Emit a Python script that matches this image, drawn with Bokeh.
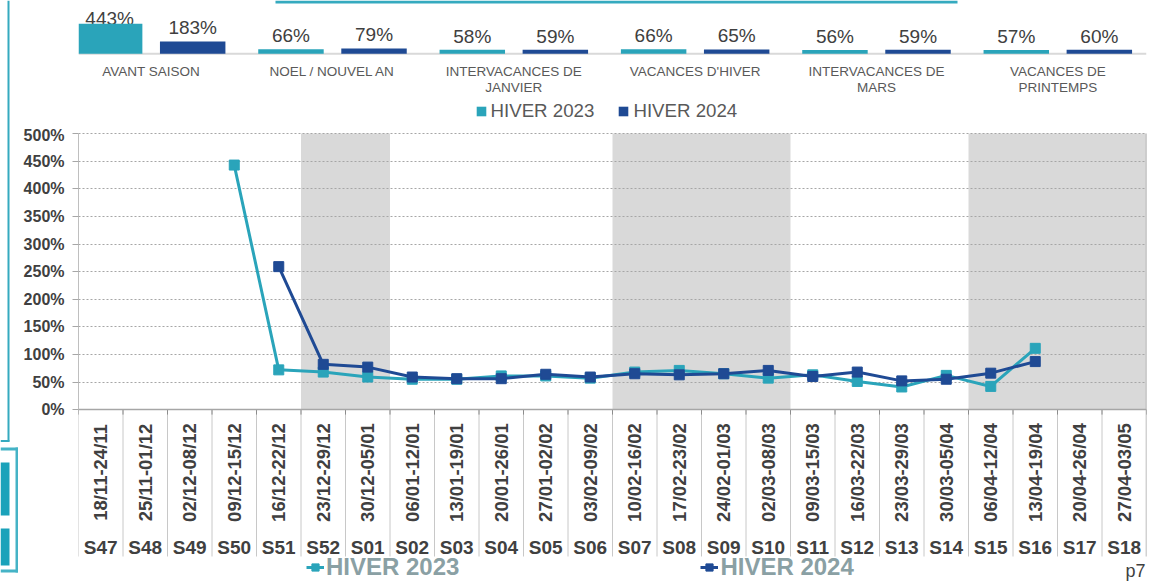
import numpy as np
from bokeh.plotting import figure
from bokeh.models import (ColumnDataSource, FactorRange, Range1d, Span, Legend, LegendItem,
                          FixedTicker, BoxAnnotation, Label)
from bokeh.transform import dodge
from bokeh.layouts import column, row
from bokeh.core.properties import value
from bokeh.embed import file_html
from bokeh.resources import INLINE

# ---------------- data ----------------
group_labels = ["AVANT SAISON", "NOEL / NOUVEL AN", "INTERVACANCES DE\nJANVIER",
                "VACANCES D'HIVER", "INTERVACANCES DE\nMARS", "VACANCES DE\nPRINTEMPS"]
summary_2023 = [443, 66, 58, 66, 56, 57]
summary_2024 = [183, 79, 59, 65, 59, 60]

weeks = ["S47", "S48", "S49", "S50", "S51", "S52", "S01", "S02", "S03", "S04", "S05", "S06",
         "S07", "S08", "S09", "S10", "S11", "S12", "S13", "S14", "S15", "S16", "S17", "S18"]
dates = ["18/11-24/11", "25/11-01/12", "02/12-08/12", "09/12-15/12", "16/12-22/12",
         "23/12-29/12", "30/12-05/01", "06/01-12/01", "13/01-19/01", "20/01-26/01",
         "27/01-02/02", "03/02-09/02", "10/02-16/02", "17/02-23/02", "24/02-01/03",
         "02/03-08/03", "09/03-15/03", "16/03-22/03", "23/03-29/03", "30/03-05/04",
         "06/04-12/04", "13/04-19/04", "20/04-26/04", "27/04-03/05"]
nan = float("nan")
hiver_2023 = [nan, nan, nan, 443, 72, 68, 59, 55, 55, 61, 61, 57,
              68, 71, 65, 57, 63, 51, 41, 62, 42, 111, nan, nan]
hiver_2024 = [nan, nan, nan, nan, 259, 82, 77, 59, 56, 56, 64, 59,
              65, 63, 65, 71, 60, 68, 52, 55, 66, 87, nan, nan]
holiday_start = ["S52", "S07", "S15"]
holiday_end = ["S01", "S10", "S18"]
y_ticks = list(range(0, 501, 50))

# ---------------- style ----------------
FONT = "Liberation Sans"
TEAL = "#2AA4BA"
NAVY = "#1F4A94"
DARK = "#404040"
GREY_TXT = "#595959"
LEG_GREY = "#8AA0A4"
FRAME_TEAL = "#35AABF"
BOX_TEAL = "#45B3C6"
FILL_TEAL = "#1AA2BA"

PAGE_W = 1170
PAGE_H = 581
DECO_W = 18           # narrow strip on the left holding the page-frame pieces
W = PAGE_W - DECO_W
H_TOP = 126
H_MAIN = PAGE_H - H_TOP
FRAME_L = 78          # left edge of the plotting frame (page px)
FRAME_R = 1146        # right edge of the plotting frame (page px)

# ================= left decoration strip =================
d = figure(width=DECO_W, height=PAGE_H, x_range=Range1d(0, DECO_W),
           y_range=Range1d(PAGE_H, 0), output_backend="svg", toolbar_location=None,
           min_border=0, x_axis_location=None, y_axis_location=None)
d.grid.visible = False
d.outline_line_color = None
d.background_fill_color = None
d.border_fill_color = None
deco = dict(l=[7, 0, 15, 0, 0, 0, 0], r=[9, 9, 18, 18, 18, 9, 9],
            t=[0, 439.5, 447, 447, 569, 462, 528], b=[441, 441.5, 572, 450, 572, 515, 565],
            c=[FRAME_TEAL, FRAME_TEAL, BOX_TEAL, BOX_TEAL, BOX_TEAL, FILL_TEAL, FILL_TEAL])
d.quad(left="l", right="r", top="t", bottom="b", fill_color="c", line_color=None,
       source=ColumnDataSource(deco))

# ================= top summary chart =================
PX_TOP = 0.0677       # pixels per percent in the summary bars
BASE_Y = 53.3         # baseline distance from top of page (px)
GROUP_PX = 181.33     # width of one summary group (px)
GROUP_LEFT = 60       # left edge of the first summary group (page px)

top_end = BASE_Y / PX_TOP
top_start = -(H_TOP - BASE_Y) / PX_TOP
x_start = (FRAME_L - GROUP_LEFT) / GROUP_PX
x_end = (FRAME_R - GROUP_LEFT) / GROUP_PX


def tx(sx):
    return (sx - GROUP_LEFT) / GROUP_PX


t = figure(width=W, height=H_TOP, x_range=Range1d(x_start, x_end),
           y_range=Range1d(top_start, top_end), output_backend="svg",
           toolbar_location=None, min_border_left=FRAME_L - DECO_W,
           min_border_right=PAGE_W - FRAME_R,
           min_border_top=0, min_border_bottom=0,
           x_axis_location=None, y_axis_location=None)
t.grid.visible = False
t.outline_line_color = None
t.background_fill_color = None
t.border_fill_color = None

t.add_layout(Span(location=0, dimension="width", line_color="#D9D9D9", line_width=2,
                  level="underlay"))

gx = np.arange(len(group_labels)) + 0.5
gap = 13.5 / PX_TOP            # label centre above the bar, in data units
cap = (BASE_Y - 17.5) / PX_TOP  # highest label centre (kept on the page)
tsrc = ColumnDataSource(dict(
    x=gx, label=group_labels,
    v23=summary_2023, v24=summary_2024,
    l23=[f"{v}%" for v in summary_2023], l24=[f"{v}%" for v in summary_2024],
    y23=list(np.minimum(np.array(summary_2023) + gap, cap)),
    y24=list(np.minimum(np.array(summary_2024) + gap, cap)),
))
OFF = 0.229
BW = 0.361
lbl_kw = dict(text_font=value(FONT), text_font_size="19px", text_color=DARK,
              text_align="center", text_baseline="middle")
t.text(x=dodge("x", -OFF), y="y23", text="l23", source=tsrc, **lbl_kw)
t.text(x=dodge("x", OFF), y="y24", text="l24", source=tsrc, **lbl_kw)
b23 = t.vbar(x=dodge("x", -OFF), top="v23", bottom=0, width=BW,
             source=tsrc, fill_color=TEAL, line_color=None)
b24 = t.vbar(x=dodge("x", OFF), top="v24", bottom=0, width=BW,
             source=tsrc, fill_color=NAVY, line_color=None)
t.text(x="x", y=0, text="label", source=tsrc, y_offset=10,
       text_font=value(FONT), text_font_size="13.5px", text_color=GREY_TXT,
       text_align="center", text_baseline="top", text_line_height=1.05)

# teal edge of the banner box cut at the top of the page
t.add_layout(BoxAnnotation(left=tx(275), right=tx(957),
                           top=top_end, bottom=top_end - 3 / PX_TOP,
                           fill_color=FRAME_TEAL, fill_alpha=1, line_color=None))

tleg = Legend(items=[LegendItem(label="HIVER 2023", renderers=[b23]),
                     LegendItem(label="HIVER 2024", renderers=[b24])],
              location=(474.5 - FRAME_L, 4), orientation="horizontal",
              glyph_width=12, glyph_height=12, label_standoff=4, spacing=23,
              label_text_font=FONT, label_text_font_size="18.7px",
              label_text_color=GREY_TXT, label_height=22,
              padding=0, margin=0, border_line_color=None, background_fill_alpha=0)
t.add_layout(tleg)

# ================= main line chart =================
PX = 0.552            # pixels per percent
TOP_V = 502
MAIN_TOP = 6
frame_h = H_MAIN - MAIN_TOP
bottom_v = TOP_V - frame_h / PX
ZERO_Y = H_TOP + MAIN_TOP + TOP_V * PX   # page y of the 0% line
CAT_PX = (FRAME_R - FRAME_L) / len(weeks)


def mx(sx):
    return (sx - FRAME_L) / CAT_PX


def my(sy):
    return (ZERO_Y - sy) / PX


p = figure(width=W, height=H_MAIN,
           x_range=FactorRange(*weeks, range_padding=0, factor_padding=0),
           y_range=Range1d(bottom_v, TOP_V), output_backend="svg",
           toolbar_location=None, min_border_left=FRAME_L - DECO_W,
           min_border_right=PAGE_W - FRAME_R,
           min_border_top=MAIN_TOP, min_border_bottom=0, x_axis_location=None)
p.outline_line_color = None
p.xgrid.visible = False
p.background_fill_color = None
p.border_fill_color = None

ax = p.yaxis[0]
ax.ticker = FixedTicker(ticks=y_ticks)
ax.major_label_overrides = {v: f"{v}%" for v in y_ticks}
ax.bounds = (0, 500)
ax.axis_line_color = "#BFBFBF"
ax.major_tick_line_color = "#A6A6A6"
ax.major_tick_out = 6
ax.major_tick_in = 0
ax.minor_tick_out = 0
ax.minor_tick_in = 0
ax.major_label_standoff = 8
ax.major_label_text_font = FONT
ax.major_label_text_font_size = "16px"
ax.major_label_text_font_style = "bold"
ax.major_label_text_color = DARK

p.ygrid.grid_line_color = "#A6A6A6"
p.ygrid.grid_line_dash = "2 2"
p.ygrid.grid_line_width = 1

# holiday shading
hsrc = ColumnDataSource(dict(s=holiday_start, e=holiday_end))
p.quad(left=dodge("s", -0.5, range=p.x_range), right=dodge("e", 0.5, range=p.x_range),
       top=500, bottom=0, source=hsrc, fill_color="#D9D9D9", line_color=None, level="image")

# table below the axis
TABLE_BOTTOM = my(556)
DATE_Y = my(472)
WEEK_Y = my(547)
TICK_Y = -5 / PX
wsrc = ColumnDataSource(dict(week=weeks, date=dates, h23=hiver_2023, h24=hiver_2024))
edge = dodge("week", -0.5, range=p.x_range)
p.segment(x0=edge, y0=0, x1=edge, y1=TABLE_BOTTOM, source=wsrc,
          line_color="#C8C8C8", line_width=1)
p.segment(x0=edge, y0=0, x1=edge, y1=TICK_Y, source=wsrc,
          line_color="#8C8C8C", line_width=1)
lsrc = ColumnDataSource(dict(week=[weeks[-1]]))
redge = dodge("week", 0.5, range=p.x_range)
p.segment(x0=redge, y0=TABLE_BOTTOM, x1=redge, y1=500, source=lsrc,
          line_color="#A6A6A6", line_width=1.5)
p.segment(x0=redge, y0=0, x1=redge, y1=TICK_Y, source=lsrc,
          line_color="#8C8C8C", line_width=1)
p.add_layout(Span(location=0, dimension="width", line_color="#A6A6A6", line_width=1.5))

p.text(x="week", y=DATE_Y, text="date", source=wsrc, angle=np.pi / 2,
       text_align="center", text_baseline="middle", text_font=value(FONT),
       text_font_style="bold", text_font_size="18.5px", text_color=DARK)
p.text(x="week", y=WEEK_Y, text="week", source=wsrc,
       text_align="center", text_baseline="middle", text_font=value(FONT),
       text_font_style="bold", text_font_size="19px", text_color=DARK)

# series
l23 = p.line(x="week", y="h23", source=wsrc, line_color=TEAL, line_width=3)
s23 = p.scatter(x="week", y="h23", source=wsrc, marker="square", size=10,
                fill_color=TEAL, line_color=TEAL)
l24 = p.line(x="week", y="h24", source=wsrc, line_color=NAVY, line_width=3)
s24 = p.scatter(x="week", y="h24", source=wsrc, marker="square", size=10,
                fill_color=NAVY, line_color=NAVY)

leg = Legend(items=[LegendItem(label="HIVER 2023", renderers=[l23, s23]),
                    LegendItem(label="HIVER 2024", renderers=[l24, s24])],
             location=(306 - FRAME_L, 0), orientation="horizontal",
             glyph_width=18, glyph_height=22, label_standoff=2, spacing=241,
             label_text_font=FONT, label_text_font_size="24px",
             label_text_font_style="bold", label_text_color=LEG_GREY, label_height=22,
             padding=0, margin=0, border_line_color=None, background_fill_alpha=0)
p.add_layout(leg)

# page number, kept inside the plotting frame so that it is not clipped
p.add_layout(Label(x=mx(FRAME_R - 1), y=my(580), text="p7", text_font=FONT,
                   text_font_size="18px", text_color=DARK, text_baseline="bottom",
                   text_align="right"))

layout = row(d, column(t, p, spacing=0), spacing=0)
open("out.html", "w").write(file_html(layout, INLINE))
